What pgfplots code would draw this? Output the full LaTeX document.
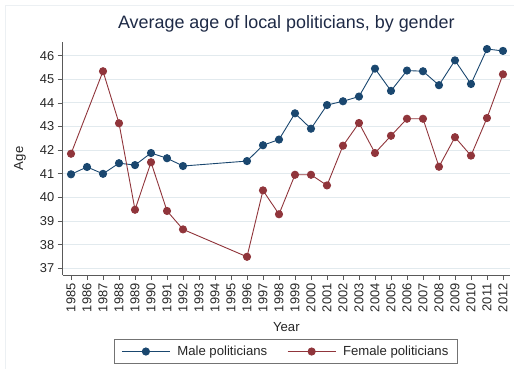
\documentclass[border=0pt]{standalone}
\usepackage{pgfplots}
\pgfplotsset{compat=1.18}
\usepackage{fontspec}
\setmainfont{Liberation Sans}

\definecolor{malecol}{RGB}{26,71,111}
\definecolor{femalecol}{RGB}{144,53,59}
\definecolor{gridcol}{RGB}{226,234,238}
\definecolor{titlecol}{RGB}{30,42,70}
\definecolor{framecol}{RGB}{236,240,243}

\begin{document}
\begin{tikzpicture}
\useasboundingbox (0bp,0bp) rectangle (514bp,369bp);
% faint outer frame of the graph region
\draw[framecol, line width=0.6bp] (5bp,0bp) -- (5bp,364bp) -- (514bp,364bp);
\begin{axis}[
  at={(62.7bp,94bp)}, anchor=south west,
  scale only axis,
  width=447.3bp, height=233.3bp,
  xmin=1984.48, xmax=2012.44,
  ymin=36.72, ymax=46.59,
  axis lines*=left,
  axis line style={black!65, line width=0.7bp},
  xtick={1985,...,2012},
  ytick={37,...,46},
  xticklabel style={rotate=90, anchor=east, /pgf/number format/1000 sep={}},
  /pgf/number format/assume math mode=true,
  ticklabel style={font=\fontsize{12.9}{15}\selectfont, text=black!85},
  tick style={black!65, line width=0.7bp},
  tick align=outside,
  major tick length=5bp,
  ymajorgrids,
  grid style={gridcol, line width=0.9bp},
  title={Average age of local politicians, by gender},
  title style={at={(axis description cs:0.5,1.05)}, anchor=center,
    font=\fontsize{18}{21}\selectfont, text=titlecol},
  xlabel={Year},
  xlabel style={at={(axis description cs:0.5,-0.223)}, anchor=center,
    font=\fontsize{13.2}{15}\selectfont, text=black!85},
  ylabel={Age},
  ylabel style={at={(axis description cs:-0.0955,0.5)}, anchor=center,
    font=\fontsize{13.2}{15}\selectfont, text=black!85},
  legend columns=2,
  legend style={at={(axis description cs:0.499,-0.328)}, anchor=center,
    draw=black!55, line width=0.6bp,
    font=\fontsize{13.2}{15}\selectfont, text=black!85,
    inner xsep=7bp, inner ysep=4.5bp,
    /tikz/every even column/.append style={column sep=18bp}},
  legend image code/.code={%
    \draw[mark repeat=2, mark phase=2] plot coordinates {(0bp,0bp) (24bp,0bp) (48bp,0bp)};},
  every axis plot/.append style={line width=0.9bp, mark=*, mark size=3.6bp},
]
% Male politicians
\addplot[malecol, mark options={fill=malecol, draw=malecol}] coordinates {
  (1985,40.98) (1986,41.29) (1987,41.00) (1988,41.45) (1989,41.37)
  (1990,41.88) (1991,41.66) (1992,41.33) (1996,41.54) (1997,42.21)
  (1998,42.45) (1999,43.56) (2000,42.91) (2001,43.91) (2002,44.07)
  (2003,44.27) (2004,45.45) (2005,44.51) (2006,45.37) (2007,45.34)
  (2008,44.75) (2009,45.80) (2010,44.80) (2011,46.28) (2012,46.20)
};
\addlegendentry{\hspace{5bp}Male politicians}
% Female politicians
\addplot[femalecol, mark options={fill=femalecol, draw=femalecol}] coordinates {
  (1985,41.85) (1987,45.34) (1988,43.14) (1989,39.48) (1990,41.49)
  (1991,39.43) (1992,38.65) (1996,37.49) (1997,40.30) (1998,39.29)
  (1999,40.96) (2000,40.96) (2001,40.51) (2002,42.19) (2003,43.15)
  (2004,41.88) (2005,42.61) (2006,43.33) (2007,43.33) (2008,41.30)
  (2009,42.55) (2010,41.77) (2011,43.36) (2012,45.21)
};
\addlegendentry{\hspace{5bp}Female politicians}
\end{axis}
\end{tikzpicture}
\end{document}
